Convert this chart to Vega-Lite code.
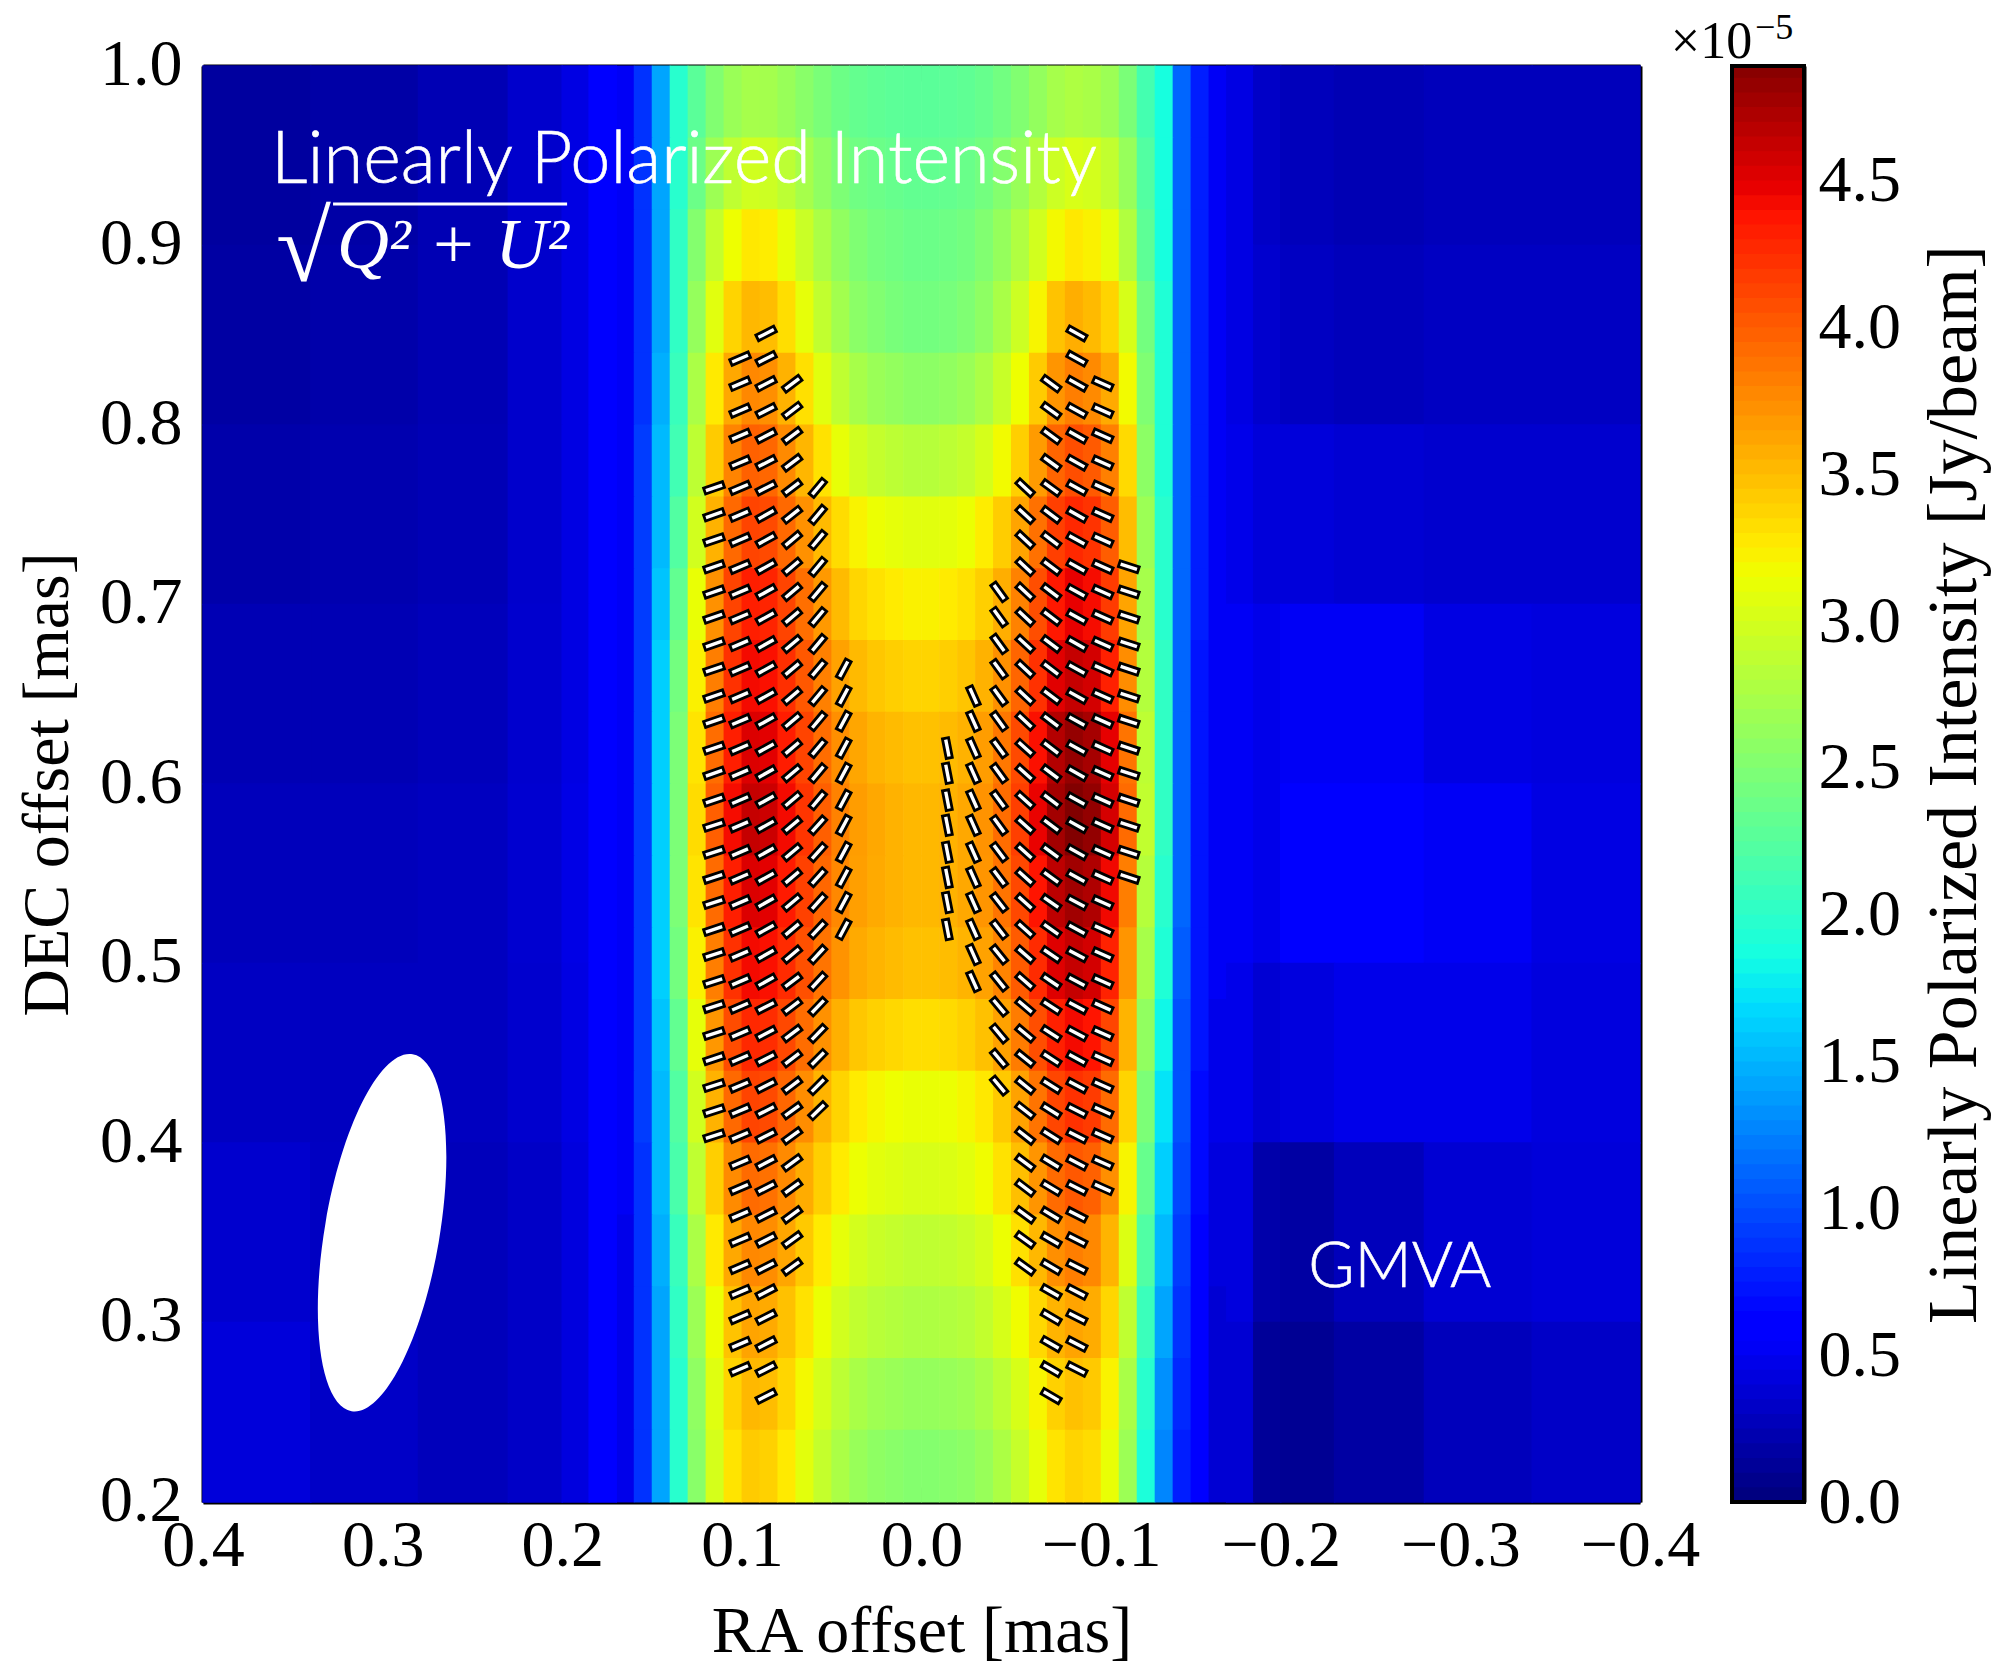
{"$schema":"https://vega.github.io/schema/vega-lite/v6.json","background":"white","padding":{"left":14,"top":9,"right":5,"bottom":5},"bounds":"flush","spacing":92,
"datasets":{
"inner":[
{"x":0.165,"y":0.98,"v":0.5},{"x":0.155,"y":0.98,"v":0.85},{"x":0.145,"y":0.98,"v":1.4},{"x":0.135,"y":0.98,"v":1.95},{"x":0.125,"y":0.98,"v":2.25},{"x":0.115,"y":0.98,"v":2.48},{"x":0.105,"y":0.98,"v":2.63},{"x":0.095,"y":0.98,"v":2.7},{"x":0.085,"y":0.98,"v":2.69},{"x":0.075,"y":0.98,"v":2.62},{"x":0.065,"y":0.98,"v":2.53},{"x":0.055,"y":0.98,"v":2.44},{"x":0.045,"y":0.98,"v":2.36},{"x":0.035,"y":0.98,"v":2.31},{"x":0.025,"y":0.98,"v":2.28},{"x":0.015,"y":0.98,"v":2.26},{"x":0.005,"y":0.98,"v":2.25},{"x":-0.005,"y":0.98,"v":2.25},{"x":-0.015,"y":0.98,"v":2.26},{"x":-0.025,"y":0.98,"v":2.28},{"x":-0.035,"y":0.98,"v":2.32},{"x":-0.045,"y":0.98,"v":2.39},{"x":-0.055,"y":0.98,"v":2.48},{"x":-0.065,"y":0.98,"v":2.59},{"x":-0.075,"y":0.98,"v":2.7},{"x":-0.085,"y":0.98,"v":2.75},{"x":-0.095,"y":0.98,"v":2.72},{"x":-0.105,"y":0.98,"v":2.64},{"x":-0.115,"y":0.98,"v":2.44},{"x":-0.125,"y":0.98,"v":2.12},{"x":-0.135,"y":0.98,"v":1.85},{"x":-0.145,"y":0.98,"v":1.1},{"x":-0.155,"y":0.98,"v":0.75},{"x":-0.165,"y":0.98,"v":0.5},
{"x":0.165,"y":0.94,"v":0.5},{"x":0.155,"y":0.94,"v":0.85},{"x":0.145,"y":0.94,"v":1.4},{"x":0.135,"y":0.94,"v":1.95},{"x":0.125,"y":0.94,"v":2.35},{"x":0.115,"y":0.94,"v":2.65},{"x":0.105,"y":0.94,"v":2.85},{"x":0.095,"y":0.94,"v":2.95},{"x":0.085,"y":0.94,"v":2.93},{"x":0.075,"y":0.94,"v":2.83},{"x":0.065,"y":0.94,"v":2.7},{"x":0.055,"y":0.94,"v":2.57},{"x":0.045,"y":0.94,"v":2.46},{"x":0.035,"y":0.94,"v":2.38},{"x":0.025,"y":0.94,"v":2.35},{"x":0.015,"y":0.94,"v":2.32},{"x":0.005,"y":0.94,"v":2.3},{"x":-0.005,"y":0.94,"v":2.3},{"x":-0.015,"y":0.94,"v":2.31},{"x":-0.025,"y":0.94,"v":2.34},{"x":-0.035,"y":0.94,"v":2.4},{"x":-0.045,"y":0.94,"v":2.5},{"x":-0.055,"y":0.94,"v":2.62},{"x":-0.065,"y":0.94,"v":2.78},{"x":-0.075,"y":0.94,"v":2.93},{"x":-0.085,"y":0.94,"v":3},{"x":-0.095,"y":0.94,"v":2.97},{"x":-0.105,"y":0.94,"v":2.86},{"x":-0.115,"y":0.94,"v":2.61},{"x":-0.125,"y":0.94,"v":2.2},{"x":-0.135,"y":0.94,"v":1.85},{"x":-0.145,"y":0.94,"v":1.1},{"x":-0.155,"y":0.94,"v":0.75},{"x":-0.165,"y":0.94,"v":0.5},
{"x":0.165,"y":0.9,"v":0.5},{"x":0.155,"y":0.9,"v":0.85},{"x":0.145,"y":0.9,"v":1.4},{"x":0.135,"y":0.9,"v":2},{"x":0.125,"y":0.9,"v":2.5},{"x":0.115,"y":0.9,"v":2.88},{"x":0.105,"y":0.9,"v":3.13},{"x":0.095,"y":0.9,"v":3.25},{"x":0.085,"y":0.9,"v":3.22},{"x":0.075,"y":0.9,"v":3.09},{"x":0.065,"y":0.9,"v":2.91},{"x":0.055,"y":0.9,"v":2.73},{"x":0.045,"y":0.9,"v":2.58},{"x":0.035,"y":0.9,"v":2.47},{"x":0.025,"y":0.9,"v":2.41},{"x":0.015,"y":0.9,"v":2.38},{"x":0.005,"y":0.9,"v":2.35},{"x":-0.005,"y":0.9,"v":2.35},{"x":-0.015,"y":0.9,"v":2.37},{"x":-0.025,"y":0.9,"v":2.4},{"x":-0.035,"y":0.9,"v":2.48},{"x":-0.045,"y":0.9,"v":2.6},{"x":-0.055,"y":0.9,"v":2.76},{"x":-0.065,"y":0.9,"v":2.96},{"x":-0.075,"y":0.9,"v":3.16},{"x":-0.085,"y":0.9,"v":3.25},{"x":-0.095,"y":0.9,"v":3.2},{"x":-0.105,"y":0.9,"v":3.08},{"x":-0.115,"y":0.9,"v":2.77},{"x":-0.125,"y":0.9,"v":2.27},{"x":-0.135,"y":0.9,"v":1.85},{"x":-0.145,"y":0.9,"v":1.1},{"x":-0.155,"y":0.9,"v":0.75},{"x":-0.165,"y":0.9,"v":0.5},
{"x":0.165,"y":0.86,"v":0.5},{"x":0.155,"y":0.86,"v":0.85},{"x":0.145,"y":0.86,"v":1.4},{"x":0.135,"y":0.86,"v":2},{"x":0.125,"y":0.86,"v":2.6},{"x":0.115,"y":0.86,"v":3.05},{"x":0.105,"y":0.86,"v":3.35},{"x":0.095,"y":0.86,"v":3.5},{"x":0.085,"y":0.86,"v":3.47},{"x":0.075,"y":0.86,"v":3.3},{"x":0.065,"y":0.86,"v":3.08},{"x":0.055,"y":0.86,"v":2.86},{"x":0.045,"y":0.86,"v":2.68},{"x":0.035,"y":0.86,"v":2.54},{"x":0.025,"y":0.86,"v":2.48},{"x":0.015,"y":0.86,"v":2.43},{"x":0.005,"y":0.86,"v":2.4},{"x":-0.005,"y":0.86,"v":2.4},{"x":-0.015,"y":0.86,"v":2.42},{"x":-0.025,"y":0.86,"v":2.47},{"x":-0.035,"y":0.86,"v":2.56},{"x":-0.045,"y":0.86,"v":2.72},{"x":-0.055,"y":0.86,"v":2.93},{"x":-0.065,"y":0.86,"v":3.18},{"x":-0.075,"y":0.86,"v":3.44},{"x":-0.085,"y":0.86,"v":3.55},{"x":-0.095,"y":0.86,"v":3.49},{"x":-0.105,"y":0.86,"v":3.35},{"x":-0.115,"y":0.86,"v":2.99},{"x":-0.125,"y":0.86,"v":2.4},{"x":-0.135,"y":0.86,"v":1.9},{"x":-0.145,"y":0.86,"v":1.1},{"x":-0.155,"y":0.86,"v":0.75},{"x":-0.165,"y":0.86,"v":0.5},
{"x":0.165,"y":0.82,"v":0.5},{"x":0.155,"y":0.82,"v":0.85},{"x":0.145,"y":0.82,"v":1.45},{"x":0.135,"y":0.82,"v":2.05},{"x":0.125,"y":0.82,"v":2.73},{"x":0.115,"y":0.82,"v":3.24},{"x":0.105,"y":0.82,"v":3.58},{"x":0.095,"y":0.82,"v":3.75},{"x":0.085,"y":0.82,"v":3.71},{"x":0.075,"y":0.82,"v":3.53},{"x":0.065,"y":0.82,"v":3.29},{"x":0.055,"y":0.82,"v":3.05},{"x":0.045,"y":0.82,"v":2.85},{"x":0.035,"y":0.82,"v":2.71},{"x":0.025,"y":0.82,"v":2.63},{"x":0.015,"y":0.82,"v":2.59},{"x":0.005,"y":0.82,"v":2.55},{"x":-0.005,"y":0.82,"v":2.55},{"x":-0.015,"y":0.82,"v":2.58},{"x":-0.025,"y":0.82,"v":2.63},{"x":-0.035,"y":0.82,"v":2.73},{"x":-0.045,"y":0.82,"v":2.9},{"x":-0.055,"y":0.82,"v":3.13},{"x":-0.065,"y":0.82,"v":3.4},{"x":-0.075,"y":0.82,"v":3.68},{"x":-0.085,"y":0.82,"v":3.8},{"x":-0.095,"y":0.82,"v":3.74},{"x":-0.105,"y":0.82,"v":3.57},{"x":-0.115,"y":0.82,"v":3.15},{"x":-0.125,"y":0.82,"v":2.47},{"x":-0.135,"y":0.82,"v":1.9},{"x":-0.145,"y":0.82,"v":1.1},{"x":-0.155,"y":0.82,"v":0.75},{"x":-0.165,"y":0.82,"v":0.5},
{"x":0.165,"y":0.78,"v":0.5},{"x":0.155,"y":0.78,"v":0.9},{"x":0.145,"y":0.78,"v":1.5},{"x":0.135,"y":0.78,"v":2.1},{"x":0.125,"y":0.78,"v":2.84},{"x":0.115,"y":0.78,"v":3.4},{"x":0.105,"y":0.78,"v":3.77},{"x":0.095,"y":0.78,"v":3.95},{"x":0.085,"y":0.78,"v":3.92},{"x":0.075,"y":0.78,"v":3.74},{"x":0.065,"y":0.78,"v":3.51},{"x":0.055,"y":0.78,"v":3.28},{"x":0.045,"y":0.78,"v":3.09},{"x":0.035,"y":0.78,"v":2.95},{"x":0.025,"y":0.78,"v":2.88},{"x":0.015,"y":0.78,"v":2.83},{"x":0.005,"y":0.78,"v":2.8},{"x":-0.005,"y":0.78,"v":2.8},{"x":-0.015,"y":0.78,"v":2.83},{"x":-0.025,"y":0.78,"v":2.88},{"x":-0.035,"y":0.78,"v":2.98},{"x":-0.045,"y":0.78,"v":3.15},{"x":-0.055,"y":0.78,"v":3.38},{"x":-0.065,"y":0.78,"v":3.65},{"x":-0.075,"y":0.78,"v":3.93},{"x":-0.085,"y":0.78,"v":4.05},{"x":-0.095,"y":0.78,"v":3.99},{"x":-0.105,"y":0.78,"v":3.79},{"x":-0.115,"y":0.78,"v":3.32},{"x":-0.125,"y":0.78,"v":2.55},{"x":-0.135,"y":0.78,"v":1.9},{"x":-0.145,"y":0.78,"v":1.1},{"x":-0.155,"y":0.78,"v":0.75},{"x":-0.165,"y":0.78,"v":0.5},
{"x":0.165,"y":0.74,"v":0.5},{"x":0.155,"y":0.74,"v":0.9},{"x":0.145,"y":0.74,"v":1.5},{"x":0.135,"y":0.74,"v":2.2},{"x":0.125,"y":0.74,"v":2.96},{"x":0.115,"y":0.74,"v":3.53},{"x":0.105,"y":0.74,"v":3.91},{"x":0.095,"y":0.74,"v":4.1},{"x":0.085,"y":0.74,"v":4.07},{"x":0.075,"y":0.74,"v":3.91},{"x":0.065,"y":0.74,"v":3.7},{"x":0.055,"y":0.74,"v":3.49},{"x":0.045,"y":0.74,"v":3.31},{"x":0.035,"y":0.74,"v":3.19},{"x":0.025,"y":0.74,"v":3.12},{"x":0.015,"y":0.74,"v":3.08},{"x":0.005,"y":0.74,"v":3.05},{"x":-0.005,"y":0.74,"v":3.05},{"x":-0.015,"y":0.74,"v":3.07},{"x":-0.025,"y":0.74,"v":3.12},{"x":-0.035,"y":0.74,"v":3.22},{"x":-0.045,"y":0.74,"v":3.39},{"x":-0.055,"y":0.74,"v":3.6},{"x":-0.065,"y":0.74,"v":3.87},{"x":-0.075,"y":0.74,"v":4.13},{"x":-0.085,"y":0.74,"v":4.25},{"x":-0.095,"y":0.74,"v":4.19},{"x":-0.105,"y":0.74,"v":3.97},{"x":-0.115,"y":0.74,"v":3.47},{"x":-0.125,"y":0.74,"v":2.64},{"x":-0.135,"y":0.74,"v":1.95},{"x":-0.145,"y":0.74,"v":1.1},{"x":-0.155,"y":0.74,"v":0.75},{"x":-0.165,"y":0.74,"v":0.5},
{"x":0.165,"y":0.7,"v":0.5},{"x":0.155,"y":0.7,"v":0.9},{"x":0.145,"y":0.7,"v":1.55},{"x":0.135,"y":0.7,"v":2.3},{"x":0.125,"y":0.7,"v":3.1},{"x":0.115,"y":0.7,"v":3.7},{"x":0.105,"y":0.7,"v":4.1},{"x":0.095,"y":0.7,"v":4.3},{"x":0.085,"y":0.7,"v":4.27},{"x":0.075,"y":0.7,"v":4.1},{"x":0.065,"y":0.7,"v":3.88},{"x":0.055,"y":0.7,"v":3.66},{"x":0.045,"y":0.7,"v":3.48},{"x":0.035,"y":0.7,"v":3.34},{"x":0.025,"y":0.7,"v":3.28},{"x":0.015,"y":0.7,"v":3.23},{"x":0.005,"y":0.7,"v":3.2},{"x":-0.005,"y":0.7,"v":3.2},{"x":-0.015,"y":0.7,"v":3.23},{"x":-0.025,"y":0.7,"v":3.28},{"x":-0.035,"y":0.7,"v":3.38},{"x":-0.045,"y":0.7,"v":3.55},{"x":-0.055,"y":0.7,"v":3.78},{"x":-0.065,"y":0.7,"v":4.05},{"x":-0.075,"y":0.7,"v":4.33},{"x":-0.085,"y":0.7,"v":4.45},{"x":-0.095,"y":0.7,"v":4.39},{"x":-0.105,"y":0.7,"v":4.15},{"x":-0.115,"y":0.7,"v":3.6},{"x":-0.125,"y":0.7,"v":2.7},{"x":-0.135,"y":0.7,"v":1.95},{"x":-0.145,"y":0.7,"v":1.1},{"x":-0.155,"y":0.7,"v":0.75},{"x":-0.165,"y":0.7,"v":0.5},
{"x":0.165,"y":0.66,"v":0.5},{"x":0.155,"y":0.66,"v":0.9},{"x":0.145,"y":0.66,"v":1.6},{"x":0.135,"y":0.66,"v":2.4},{"x":0.125,"y":0.66,"v":3.2},{"x":0.115,"y":0.66,"v":3.8},{"x":0.105,"y":0.66,"v":4.2},{"x":0.095,"y":0.66,"v":4.4},{"x":0.085,"y":0.66,"v":4.37},{"x":0.075,"y":0.66,"v":4.21},{"x":0.065,"y":0.66,"v":4},{"x":0.055,"y":0.66,"v":3.79},{"x":0.045,"y":0.66,"v":3.61},{"x":0.035,"y":0.66,"v":3.49},{"x":0.025,"y":0.66,"v":3.42},{"x":0.015,"y":0.66,"v":3.38},{"x":0.005,"y":0.66,"v":3.35},{"x":-0.005,"y":0.66,"v":3.35},{"x":-0.015,"y":0.66,"v":3.38},{"x":-0.025,"y":0.66,"v":3.43},{"x":-0.035,"y":0.66,"v":3.53},{"x":-0.045,"y":0.66,"v":3.7},{"x":-0.055,"y":0.66,"v":3.93},{"x":-0.065,"y":0.66,"v":4.2},{"x":-0.075,"y":0.66,"v":4.48},{"x":-0.085,"y":0.66,"v":4.6},{"x":-0.095,"y":0.66,"v":4.54},{"x":-0.105,"y":0.66,"v":4.29},{"x":-0.115,"y":0.66,"v":3.72},{"x":-0.125,"y":0.66,"v":2.78},{"x":-0.135,"y":0.66,"v":2},{"x":-0.145,"y":0.66,"v":1.1},{"x":-0.155,"y":0.66,"v":0.7},{"x":-0.165,"y":0.66,"v":0.5},
{"x":0.165,"y":0.62,"v":0.5},{"x":0.155,"y":0.62,"v":0.9},{"x":0.145,"y":0.62,"v":1.6},{"x":0.135,"y":0.62,"v":2.45},{"x":0.125,"y":0.62,"v":3.27},{"x":0.115,"y":0.62,"v":3.89},{"x":0.105,"y":0.62,"v":4.3},{"x":0.095,"y":0.62,"v":4.5},{"x":0.085,"y":0.62,"v":4.47},{"x":0.075,"y":0.62,"v":4.31},{"x":0.065,"y":0.62,"v":4.1},{"x":0.055,"y":0.62,"v":3.89},{"x":0.045,"y":0.62,"v":3.71},{"x":0.035,"y":0.62,"v":3.59},{"x":0.025,"y":0.62,"v":3.52},{"x":0.015,"y":0.62,"v":3.48},{"x":0.005,"y":0.62,"v":3.45},{"x":-0.005,"y":0.62,"v":3.45},{"x":-0.015,"y":0.62,"v":3.48},{"x":-0.025,"y":0.62,"v":3.53},{"x":-0.035,"y":0.62,"v":3.64},{"x":-0.045,"y":0.62,"v":3.83},{"x":-0.055,"y":0.62,"v":4.07},{"x":-0.065,"y":0.62,"v":4.37},{"x":-0.075,"y":0.62,"v":4.67},{"x":-0.085,"y":0.62,"v":4.8},{"x":-0.095,"y":0.62,"v":4.73},{"x":-0.105,"y":0.62,"v":4.46},{"x":-0.115,"y":0.62,"v":3.85},{"x":-0.125,"y":0.62,"v":2.84},{"x":-0.135,"y":0.62,"v":2},{"x":-0.145,"y":0.62,"v":1.1},{"x":-0.155,"y":0.62,"v":0.7},{"x":-0.165,"y":0.62,"v":0.5},
{"x":0.165,"y":0.58,"v":0.5},{"x":0.155,"y":0.58,"v":0.9},{"x":0.145,"y":0.58,"v":1.6},{"x":0.135,"y":0.58,"v":2.45},{"x":0.125,"y":0.58,"v":3.31},{"x":0.115,"y":0.58,"v":3.96},{"x":0.105,"y":0.58,"v":4.39},{"x":0.095,"y":0.58,"v":4.6},{"x":0.085,"y":0.58,"v":4.57},{"x":0.075,"y":0.58,"v":4.4},{"x":0.065,"y":0.58,"v":4.18},{"x":0.055,"y":0.58,"v":3.96},{"x":0.045,"y":0.58,"v":3.78},{"x":0.035,"y":0.58,"v":3.64},{"x":0.025,"y":0.58,"v":3.58},{"x":0.015,"y":0.58,"v":3.53},{"x":0.005,"y":0.58,"v":3.5},{"x":-0.005,"y":0.58,"v":3.5},{"x":-0.015,"y":0.58,"v":3.53},{"x":-0.025,"y":0.58,"v":3.58},{"x":-0.035,"y":0.58,"v":3.69},{"x":-0.045,"y":0.58,"v":3.89},{"x":-0.055,"y":0.58,"v":4.13},{"x":-0.065,"y":0.58,"v":4.44},{"x":-0.075,"y":0.58,"v":4.74},{"x":-0.085,"y":0.58,"v":4.88},{"x":-0.095,"y":0.58,"v":4.81},{"x":-0.105,"y":0.58,"v":4.53},{"x":-0.115,"y":0.58,"v":3.9},{"x":-0.125,"y":0.58,"v":2.86},{"x":-0.135,"y":0.58,"v":2},{"x":-0.145,"y":0.58,"v":1.1},{"x":-0.155,"y":0.58,"v":0.7},{"x":-0.165,"y":0.58,"v":0.5},
{"x":0.165,"y":0.54,"v":0.5},{"x":0.155,"y":0.54,"v":0.9},{"x":0.145,"y":0.54,"v":1.6},{"x":0.135,"y":0.54,"v":2.45},{"x":0.125,"y":0.54,"v":3.27},{"x":0.115,"y":0.54,"v":3.9},{"x":0.105,"y":0.54,"v":4.3},{"x":0.095,"y":0.54,"v":4.5},{"x":0.085,"y":0.54,"v":4.47},{"x":0.075,"y":0.54,"v":4.32},{"x":0.065,"y":0.54,"v":4.12},{"x":0.055,"y":0.54,"v":3.92},{"x":0.045,"y":0.54,"v":3.75},{"x":0.035,"y":0.54,"v":3.63},{"x":0.025,"y":0.54,"v":3.57},{"x":0.015,"y":0.54,"v":3.53},{"x":0.005,"y":0.54,"v":3.5},{"x":-0.005,"y":0.54,"v":3.5},{"x":-0.015,"y":0.54,"v":3.53},{"x":-0.025,"y":0.54,"v":3.58},{"x":-0.035,"y":0.54,"v":3.68},{"x":-0.045,"y":0.54,"v":3.85},{"x":-0.055,"y":0.54,"v":4.08},{"x":-0.065,"y":0.54,"v":4.35},{"x":-0.075,"y":0.54,"v":4.63},{"x":-0.085,"y":0.54,"v":4.75},{"x":-0.095,"y":0.54,"v":4.69},{"x":-0.105,"y":0.54,"v":4.41},{"x":-0.115,"y":0.54,"v":3.8},{"x":-0.125,"y":0.54,"v":2.79},{"x":-0.135,"y":0.54,"v":1.95},{"x":-0.145,"y":0.54,"v":1.1},{"x":-0.155,"y":0.54,"v":0.7},{"x":-0.165,"y":0.54,"v":0.5},
{"x":0.165,"y":0.5,"v":0.5},{"x":0.155,"y":0.5,"v":0.9},{"x":0.145,"y":0.5,"v":1.6},{"x":0.135,"y":0.5,"v":2.4},{"x":0.125,"y":0.5,"v":3.2},{"x":0.115,"y":0.5,"v":3.8},{"x":0.105,"y":0.5,"v":4.2},{"x":0.095,"y":0.5,"v":4.4},{"x":0.085,"y":0.5,"v":4.37},{"x":0.075,"y":0.5,"v":4.23},{"x":0.065,"y":0.5,"v":4.04},{"x":0.055,"y":0.5,"v":3.85},{"x":0.045,"y":0.5,"v":3.69},{"x":0.035,"y":0.5,"v":3.57},{"x":0.025,"y":0.5,"v":3.52},{"x":0.015,"y":0.5,"v":3.48},{"x":0.005,"y":0.5,"v":3.45},{"x":-0.005,"y":0.5,"v":3.45},{"x":-0.015,"y":0.5,"v":3.47},{"x":-0.025,"y":0.5,"v":3.52},{"x":-0.035,"y":0.5,"v":3.61},{"x":-0.045,"y":0.5,"v":3.77},{"x":-0.055,"y":0.5,"v":3.98},{"x":-0.065,"y":0.5,"v":4.23},{"x":-0.075,"y":0.5,"v":4.49},{"x":-0.085,"y":0.5,"v":4.6},{"x":-0.095,"y":0.5,"v":4.54},{"x":-0.105,"y":0.5,"v":4.28},{"x":-0.115,"y":0.5,"v":3.68},{"x":-0.125,"y":0.5,"v":2.71},{"x":-0.135,"y":0.5,"v":1.9},{"x":-0.145,"y":0.5,"v":1.05},{"x":-0.155,"y":0.5,"v":0.7},{"x":-0.165,"y":0.5,"v":0.5},
{"x":0.165,"y":0.46,"v":0.5},{"x":0.155,"y":0.46,"v":0.9},{"x":0.145,"y":0.46,"v":1.55},{"x":0.135,"y":0.46,"v":2.3},{"x":0.125,"y":0.46,"v":3.08},{"x":0.115,"y":0.46,"v":3.67},{"x":0.105,"y":0.46,"v":4.06},{"x":0.095,"y":0.46,"v":4.25},{"x":0.085,"y":0.46,"v":4.22},{"x":0.075,"y":0.46,"v":4.08},{"x":0.065,"y":0.46,"v":3.89},{"x":0.055,"y":0.46,"v":3.7},{"x":0.045,"y":0.46,"v":3.54},{"x":0.035,"y":0.46,"v":3.42},{"x":0.025,"y":0.46,"v":3.37},{"x":0.015,"y":0.46,"v":3.33},{"x":0.005,"y":0.46,"v":3.3},{"x":-0.005,"y":0.46,"v":3.3},{"x":-0.015,"y":0.46,"v":3.32},{"x":-0.025,"y":0.46,"v":3.37},{"x":-0.035,"y":0.46,"v":3.45},{"x":-0.045,"y":0.46,"v":3.61},{"x":-0.055,"y":0.46,"v":3.81},{"x":-0.065,"y":0.46,"v":4.05},{"x":-0.075,"y":0.46,"v":4.29},{"x":-0.085,"y":0.46,"v":4.4},{"x":-0.095,"y":0.46,"v":4.35},{"x":-0.105,"y":0.46,"v":4.09},{"x":-0.115,"y":0.46,"v":3.52},{"x":-0.125,"y":0.46,"v":2.58},{"x":-0.135,"y":0.46,"v":1.8},{"x":-0.145,"y":0.46,"v":1},{"x":-0.155,"y":0.46,"v":0.7},{"x":-0.165,"y":0.46,"v":0.45},
{"x":0.165,"y":0.42,"v":0.5},{"x":0.155,"y":0.42,"v":0.9},{"x":0.145,"y":0.42,"v":1.5},{"x":0.135,"y":0.42,"v":2.2},{"x":0.125,"y":0.42,"v":2.96},{"x":0.115,"y":0.42,"v":3.53},{"x":0.105,"y":0.42,"v":3.91},{"x":0.095,"y":0.42,"v":4.1},{"x":0.085,"y":0.42,"v":4.07},{"x":0.075,"y":0.42,"v":3.92},{"x":0.065,"y":0.42,"v":3.72},{"x":0.055,"y":0.42,"v":3.52},{"x":0.045,"y":0.42,"v":3.35},{"x":0.035,"y":0.42,"v":3.23},{"x":0.025,"y":0.42,"v":3.17},{"x":0.015,"y":0.42,"v":3.13},{"x":0.005,"y":0.42,"v":3.1},{"x":-0.005,"y":0.42,"v":3.1},{"x":-0.015,"y":0.42,"v":3.12},{"x":-0.025,"y":0.42,"v":3.17},{"x":-0.035,"y":0.42,"v":3.25},{"x":-0.045,"y":0.42,"v":3.41},{"x":-0.055,"y":0.42,"v":3.61},{"x":-0.065,"y":0.42,"v":3.85},{"x":-0.075,"y":0.42,"v":4.09},{"x":-0.085,"y":0.42,"v":4.2},{"x":-0.095,"y":0.42,"v":4.15},{"x":-0.105,"y":0.42,"v":3.9},{"x":-0.115,"y":0.42,"v":3.35},{"x":-0.125,"y":0.42,"v":2.45},{"x":-0.135,"y":0.42,"v":1.7},{"x":-0.145,"y":0.42,"v":1},{"x":-0.155,"y":0.42,"v":0.65},{"x":-0.165,"y":0.42,"v":0.45},
{"x":0.165,"y":0.38,"v":0.5},{"x":0.155,"y":0.38,"v":0.85},{"x":0.145,"y":0.38,"v":1.5},{"x":0.135,"y":0.38,"v":2.15},{"x":0.125,"y":0.38,"v":2.85},{"x":0.115,"y":0.38,"v":3.38},{"x":0.105,"y":0.38,"v":3.73},{"x":0.095,"y":0.38,"v":3.9},{"x":0.085,"y":0.38,"v":3.87},{"x":0.075,"y":0.38,"v":3.74},{"x":0.065,"y":0.38,"v":3.56},{"x":0.055,"y":0.38,"v":3.38},{"x":0.045,"y":0.38,"v":3.23},{"x":0.035,"y":0.38,"v":3.12},{"x":0.025,"y":0.38,"v":3.06},{"x":0.015,"y":0.38,"v":3.03},{"x":0.005,"y":0.38,"v":3},{"x":-0.005,"y":0.38,"v":3},{"x":-0.015,"y":0.38,"v":3.02},{"x":-0.025,"y":0.38,"v":3.06},{"x":-0.035,"y":0.38,"v":3.14},{"x":-0.045,"y":0.38,"v":3.28},{"x":-0.055,"y":0.38,"v":3.46},{"x":-0.065,"y":0.38,"v":3.68},{"x":-0.075,"y":0.38,"v":3.9},{"x":-0.085,"y":0.38,"v":4},{"x":-0.095,"y":0.38,"v":3.95},{"x":-0.105,"y":0.38,"v":3.71},{"x":-0.115,"y":0.38,"v":3.18},{"x":-0.125,"y":0.38,"v":2.32},{"x":-0.135,"y":0.38,"v":1.6},{"x":-0.145,"y":0.38,"v":0.95},{"x":-0.155,"y":0.38,"v":0.65},{"x":-0.165,"y":0.38,"v":0.4},
{"x":0.165,"y":0.34,"v":0.45},{"x":0.155,"y":0.34,"v":0.85},{"x":0.145,"y":0.34,"v":1.45},{"x":0.135,"y":0.34,"v":2.05},{"x":0.125,"y":0.34,"v":2.73},{"x":0.115,"y":0.34,"v":3.24},{"x":0.105,"y":0.34,"v":3.58},{"x":0.095,"y":0.34,"v":3.75},{"x":0.085,"y":0.34,"v":3.72},{"x":0.075,"y":0.34,"v":3.59},{"x":0.065,"y":0.34,"v":3.41},{"x":0.055,"y":0.34,"v":3.23},{"x":0.045,"y":0.34,"v":3.08},{"x":0.035,"y":0.34,"v":2.97},{"x":0.025,"y":0.34,"v":2.91},{"x":0.015,"y":0.34,"v":2.88},{"x":0.005,"y":0.34,"v":2.85},{"x":-0.005,"y":0.34,"v":2.85},{"x":-0.015,"y":0.34,"v":2.87},{"x":-0.025,"y":0.34,"v":2.91},{"x":-0.035,"y":0.34,"v":2.98},{"x":-0.045,"y":0.34,"v":3.12},{"x":-0.055,"y":0.34,"v":3.29},{"x":-0.065,"y":0.34,"v":3.5},{"x":-0.075,"y":0.34,"v":3.71},{"x":-0.085,"y":0.34,"v":3.8},{"x":-0.095,"y":0.34,"v":3.75},{"x":-0.105,"y":0.34,"v":3.52},{"x":-0.115,"y":0.34,"v":3.02},{"x":-0.125,"y":0.34,"v":2.19},{"x":-0.135,"y":0.34,"v":1.5},{"x":-0.145,"y":0.34,"v":0.9},{"x":-0.155,"y":0.34,"v":0.6},{"x":-0.165,"y":0.34,"v":0.4},
{"x":0.165,"y":0.3,"v":0.45},{"x":0.155,"y":0.3,"v":0.85},{"x":0.145,"y":0.3,"v":1.4},{"x":0.135,"y":0.3,"v":2},{"x":0.125,"y":0.3,"v":2.64},{"x":0.115,"y":0.3,"v":3.12},{"x":0.105,"y":0.3,"v":3.44},{"x":0.095,"y":0.3,"v":3.6},{"x":0.085,"y":0.3,"v":3.57},{"x":0.075,"y":0.3,"v":3.45},{"x":0.065,"y":0.3,"v":3.28},{"x":0.055,"y":0.3,"v":3.11},{"x":0.045,"y":0.3,"v":2.96},{"x":0.035,"y":0.3,"v":2.86},{"x":0.025,"y":0.3,"v":2.81},{"x":0.015,"y":0.3,"v":2.78},{"x":0.005,"y":0.3,"v":2.75},{"x":-0.005,"y":0.3,"v":2.75},{"x":-0.015,"y":0.3,"v":2.77},{"x":-0.025,"y":0.3,"v":2.8},{"x":-0.035,"y":0.3,"v":2.87},{"x":-0.045,"y":0.3,"v":2.99},{"x":-0.055,"y":0.3,"v":3.14},{"x":-0.065,"y":0.3,"v":3.33},{"x":-0.075,"y":0.3,"v":3.52},{"x":-0.085,"y":0.3,"v":3.6},{"x":-0.095,"y":0.3,"v":3.56},{"x":-0.105,"y":0.3,"v":3.34},{"x":-0.115,"y":0.3,"v":2.85},{"x":-0.125,"y":0.3,"v":2.06},{"x":-0.135,"y":0.3,"v":1.4},{"x":-0.145,"y":0.3,"v":0.85},{"x":-0.155,"y":0.3,"v":0.6},{"x":-0.165,"y":0.3,"v":0.35},
{"x":0.165,"y":0.26,"v":0.45},{"x":0.155,"y":0.26,"v":0.85},{"x":0.145,"y":0.26,"v":1.4},{"x":0.135,"y":0.26,"v":1.95},{"x":0.125,"y":0.26,"v":2.57},{"x":0.115,"y":0.26,"v":3.04},{"x":0.105,"y":0.26,"v":3.35},{"x":0.095,"y":0.26,"v":3.5},{"x":0.085,"y":0.26,"v":3.47},{"x":0.075,"y":0.26,"v":3.34},{"x":0.065,"y":0.26,"v":3.16},{"x":0.055,"y":0.26,"v":2.98},{"x":0.045,"y":0.26,"v":2.83},{"x":0.035,"y":0.26,"v":2.72},{"x":0.025,"y":0.26,"v":2.66},{"x":0.015,"y":0.26,"v":2.63},{"x":0.005,"y":0.26,"v":2.6},{"x":-0.005,"y":0.26,"v":2.6},{"x":-0.015,"y":0.26,"v":2.62},{"x":-0.025,"y":0.26,"v":2.65},{"x":-0.035,"y":0.26,"v":2.72},{"x":-0.045,"y":0.26,"v":2.84},{"x":-0.055,"y":0.26,"v":2.99},{"x":-0.065,"y":0.26,"v":3.18},{"x":-0.075,"y":0.26,"v":3.37},{"x":-0.085,"y":0.26,"v":3.45},{"x":-0.095,"y":0.26,"v":3.41},{"x":-0.105,"y":0.26,"v":3.19},{"x":-0.115,"y":0.26,"v":2.72},{"x":-0.125,"y":0.26,"v":1.95},{"x":-0.135,"y":0.26,"v":1.3},{"x":-0.145,"y":0.26,"v":0.8},{"x":-0.155,"y":0.26,"v":0.55},{"x":-0.165,"y":0.26,"v":0.35},
{"x":0.165,"y":0.22,"v":0.45},{"x":0.155,"y":0.22,"v":0.85},{"x":0.145,"y":0.22,"v":1.4},{"x":0.135,"y":0.22,"v":1.95},{"x":0.125,"y":0.22,"v":2.53},{"x":0.115,"y":0.22,"v":2.98},{"x":0.105,"y":0.22,"v":3.27},{"x":0.095,"y":0.22,"v":3.4},{"x":0.085,"y":0.22,"v":3.37},{"x":0.075,"y":0.22,"v":3.24},{"x":0.065,"y":0.22,"v":3.06},{"x":0.055,"y":0.22,"v":2.88},{"x":0.045,"y":0.22,"v":2.73},{"x":0.035,"y":0.22,"v":2.62},{"x":0.025,"y":0.22,"v":2.56},{"x":0.015,"y":0.22,"v":2.53},{"x":0.005,"y":0.22,"v":2.5},{"x":-0.005,"y":0.22,"v":2.5},{"x":-0.015,"y":0.22,"v":2.52},{"x":-0.025,"y":0.22,"v":2.55},{"x":-0.035,"y":0.22,"v":2.62},{"x":-0.045,"y":0.22,"v":2.74},{"x":-0.055,"y":0.22,"v":2.89},{"x":-0.065,"y":0.22,"v":3.08},{"x":-0.075,"y":0.22,"v":3.27},{"x":-0.085,"y":0.22,"v":3.35},{"x":-0.095,"y":0.22,"v":3.31},{"x":-0.105,"y":0.22,"v":3.1},{"x":-0.115,"y":0.22,"v":2.64},{"x":-0.125,"y":0.22,"v":1.88},{"x":-0.135,"y":0.22,"v":1.25},{"x":-0.145,"y":0.22,"v":0.75},{"x":-0.155,"y":0.22,"v":0.55},{"x":-0.165,"y":0.22,"v":0.35}
],
"outer":[
{"x":0.4,"u":0.34,"y":0.9,"t":1,"v":0.13},{"x":0.34,"u":0.28,"y":0.9,"t":1,"v":0.16},{"x":0.28,"u":0.23,"y":0.9,"t":1,"v":0.22},{"x":0.23,"u":0.2,"y":0.9,"t":1,"v":0.32},{"x":0.2,"u":0.185,"y":0.9,"t":1,"v":0.42},{"x":0.185,"u":0.17,"y":0.9,"t":1,"v":0.55},
{"x":0.4,"u":0.34,"y":0.8,"t":0.9,"v":0.15},{"x":0.34,"u":0.28,"y":0.8,"t":0.9,"v":0.18},{"x":0.28,"u":0.23,"y":0.8,"t":0.9,"v":0.22},{"x":0.23,"u":0.2,"y":0.8,"t":0.9,"v":0.32},{"x":0.2,"u":0.185,"y":0.8,"t":0.9,"v":0.42},{"x":0.185,"u":0.17,"y":0.8,"t":0.9,"v":0.55},
{"x":0.4,"u":0.34,"y":0.7,"t":0.8,"v":0.18},{"x":0.34,"u":0.28,"y":0.7,"t":0.8,"v":0.2},{"x":0.28,"u":0.23,"y":0.7,"t":0.8,"v":0.23},{"x":0.23,"u":0.2,"y":0.7,"t":0.8,"v":0.32},{"x":0.2,"u":0.185,"y":0.7,"t":0.8,"v":0.42},{"x":0.185,"u":0.17,"y":0.7,"t":0.8,"v":0.55},
{"x":0.4,"u":0.34,"y":0.6,"t":0.7,"v":0.22},{"x":0.34,"u":0.28,"y":0.6,"t":0.7,"v":0.22},{"x":0.28,"u":0.23,"y":0.6,"t":0.7,"v":0.25},{"x":0.23,"u":0.2,"y":0.6,"t":0.7,"v":0.33},{"x":0.2,"u":0.185,"y":0.6,"t":0.7,"v":0.42},{"x":0.185,"u":0.17,"y":0.6,"t":0.7,"v":0.55},
{"x":0.4,"u":0.34,"y":0.5,"t":0.6,"v":0.25},{"x":0.34,"u":0.28,"y":0.5,"t":0.6,"v":0.25},{"x":0.28,"u":0.23,"y":0.5,"t":0.6,"v":0.27},{"x":0.23,"u":0.2,"y":0.5,"t":0.6,"v":0.34},{"x":0.2,"u":0.185,"y":0.5,"t":0.6,"v":0.43},{"x":0.185,"u":0.17,"y":0.5,"t":0.6,"v":0.55},
{"x":0.4,"u":0.34,"y":0.4,"t":0.5,"v":0.28},{"x":0.34,"u":0.28,"y":0.4,"t":0.5,"v":0.27},{"x":0.28,"u":0.23,"y":0.4,"t":0.5,"v":0.27},{"x":0.23,"u":0.2,"y":0.4,"t":0.5,"v":0.33},{"x":0.2,"u":0.185,"y":0.4,"t":0.5,"v":0.42},{"x":0.185,"u":0.17,"y":0.4,"t":0.5,"v":0.55},
{"x":0.4,"u":0.34,"y":0.3,"t":0.4,"v":0.33},{"x":0.34,"u":0.28,"y":0.3,"t":0.4,"v":0.28},{"x":0.28,"u":0.23,"y":0.3,"t":0.4,"v":0.25},{"x":0.23,"u":0.2,"y":0.3,"t":0.4,"v":0.3},{"x":0.2,"u":0.185,"y":0.3,"t":0.4,"v":0.4},{"x":0.185,"u":0.17,"y":0.3,"t":0.4,"v":0.55},
{"x":0.4,"u":0.34,"y":0.2,"t":0.3,"v":0.38},{"x":0.34,"u":0.28,"y":0.2,"t":0.3,"v":0.3},{"x":0.28,"u":0.23,"y":0.2,"t":0.3,"v":0.25},{"x":0.23,"u":0.2,"y":0.2,"t":0.3,"v":0.3},{"x":0.2,"u":0.185,"y":0.2,"t":0.3,"v":0.4},{"x":0.185,"u":0.17,"y":0.2,"t":0.3,"v":0.55},
{"x":-0.17,"u":-0.185,"y":0.9,"t":1,"v":0.42},{"x":-0.185,"u":-0.2,"y":0.9,"t":1,"v":0.3},{"x":-0.2,"u":-0.23,"y":0.9,"t":1,"v":0.25},{"x":-0.23,"u":-0.28,"y":0.9,"t":1,"v":0.22},{"x":-0.28,"u":-0.34,"y":0.9,"t":1,"v":0.25},{"x":-0.34,"u":-0.4,"y":0.9,"t":1,"v":0.25},
{"x":-0.17,"u":-0.185,"y":0.8,"t":0.9,"v":0.42},{"x":-0.185,"u":-0.2,"y":0.8,"t":0.9,"v":0.33},{"x":-0.2,"u":-0.23,"y":0.8,"t":0.9,"v":0.28},{"x":-0.23,"u":-0.28,"y":0.8,"t":0.9,"v":0.25},{"x":-0.28,"u":-0.34,"y":0.8,"t":0.9,"v":0.28},{"x":-0.34,"u":-0.4,"y":0.8,"t":0.9,"v":0.28},
{"x":-0.17,"u":-0.185,"y":0.7,"t":0.8,"v":0.45},{"x":-0.185,"u":-0.2,"y":0.7,"t":0.8,"v":0.38},{"x":-0.2,"u":-0.23,"y":0.7,"t":0.8,"v":0.38},{"x":-0.23,"u":-0.28,"y":0.7,"t":0.8,"v":0.35},{"x":-0.28,"u":-0.34,"y":0.7,"t":0.8,"v":0.33},{"x":-0.34,"u":-0.4,"y":0.7,"t":0.8,"v":0.33},
{"x":-0.17,"u":-0.185,"y":0.6,"t":0.7,"v":0.5},{"x":-0.185,"u":-0.2,"y":0.6,"t":0.7,"v":0.45},{"x":-0.2,"u":-0.23,"y":0.6,"t":0.7,"v":0.5},{"x":-0.23,"u":-0.28,"y":0.6,"t":0.7,"v":0.5},{"x":-0.28,"u":-0.34,"y":0.6,"t":0.7,"v":0.42},{"x":-0.34,"u":-0.4,"y":0.6,"t":0.7,"v":0.4},
{"x":-0.17,"u":-0.185,"y":0.5,"t":0.6,"v":0.5},{"x":-0.185,"u":-0.2,"y":0.5,"t":0.6,"v":0.45},{"x":-0.2,"u":-0.23,"y":0.5,"t":0.6,"v":0.55},{"x":-0.23,"u":-0.28,"y":0.5,"t":0.6,"v":0.58},{"x":-0.28,"u":-0.34,"y":0.5,"t":0.6,"v":0.5},{"x":-0.34,"u":-0.4,"y":0.5,"t":0.6,"v":0.42},
{"x":-0.17,"u":-0.185,"y":0.4,"t":0.5,"v":0.45},{"x":-0.185,"u":-0.2,"y":0.4,"t":0.5,"v":0.35},{"x":-0.2,"u":-0.23,"y":0.4,"t":0.5,"v":0.4},{"x":-0.23,"u":-0.28,"y":0.4,"t":0.5,"v":0.45},{"x":-0.28,"u":-0.34,"y":0.4,"t":0.5,"v":0.45},{"x":-0.34,"u":-0.4,"y":0.4,"t":0.5,"v":0.4},
{"x":-0.17,"u":-0.185,"y":0.3,"t":0.4,"v":0.4},{"x":-0.185,"u":-0.2,"y":0.3,"t":0.4,"v":0.18},{"x":-0.2,"u":-0.23,"y":0.3,"t":0.4,"v":0.15},{"x":-0.23,"u":-0.28,"y":0.3,"t":0.4,"v":0.25},{"x":-0.28,"u":-0.34,"y":0.3,"t":0.4,"v":0.35},{"x":-0.34,"u":-0.4,"y":0.3,"t":0.4,"v":0.38},
{"x":-0.17,"u":-0.185,"y":0.2,"t":0.3,"v":0.35},{"x":-0.185,"u":-0.2,"y":0.2,"t":0.3,"v":0.1},{"x":-0.2,"u":-0.23,"y":0.2,"t":0.3,"v":0.08},{"x":-0.23,"u":-0.28,"y":0.2,"t":0.3,"v":0.15},{"x":-0.28,"u":-0.34,"y":0.2,"t":0.3,"v":0.25},{"x":-0.34,"u":-0.4,"y":0.2,"t":0.3,"v":0.3}
],
"evpa":[
{"x":0.1155,"y":0.765,"a":-19},{"x":0.1155,"y":0.75,"a":-19},{"x":0.1155,"y":0.736,"a":-19},{"x":0.1155,"y":0.721,"a":-19},{"x":0.1155,"y":0.707,"a":-19},{"x":0.1155,"y":0.693,"a":-19},{"x":0.1155,"y":0.678,"a":-19},{"x":0.1155,"y":0.664,"a":-19},{"x":0.1155,"y":0.649,"a":-19},{"x":0.1155,"y":0.635,"a":-19},{"x":0.1155,"y":0.62,"a":-19},{"x":0.1155,"y":0.606,"a":-19},{"x":0.1155,"y":0.591,"a":-19},{"x":0.1155,"y":0.577,"a":-18},{"x":0.1155,"y":0.562,"a":-18},{"x":0.1155,"y":0.548,"a":-18},{"x":0.1155,"y":0.534,"a":-18},{"x":0.1155,"y":0.519,"a":-18},{"x":0.1155,"y":0.505,"a":-18},{"x":0.1155,"y":0.49,"a":-18},{"x":0.1155,"y":0.476,"a":-18},{"x":0.1155,"y":0.461,"a":-18},{"x":0.1155,"y":0.447,"a":-18},{"x":0.1155,"y":0.432,"a":-18},{"x":0.1155,"y":0.418,"a":-18},{"x":0.1155,"y":0.404,"a":-18},
{"x":0.101,"y":0.837,"a":-23},{"x":0.101,"y":0.823,"a":-23},{"x":0.101,"y":0.808,"a":-23},{"x":0.101,"y":0.794,"a":-23},{"x":0.101,"y":0.779,"a":-23},{"x":0.101,"y":0.765,"a":-23},{"x":0.101,"y":0.75,"a":-23},{"x":0.101,"y":0.736,"a":-23},{"x":0.101,"y":0.721,"a":-23},{"x":0.101,"y":0.707,"a":-23},{"x":0.101,"y":0.693,"a":-23},{"x":0.101,"y":0.678,"a":-23},{"x":0.101,"y":0.664,"a":-23},{"x":0.101,"y":0.649,"a":-23},{"x":0.101,"y":0.635,"a":-23},{"x":0.101,"y":0.62,"a":-23},{"x":0.101,"y":0.606,"a":-23},{"x":0.101,"y":0.591,"a":-23},{"x":0.101,"y":0.577,"a":-23},{"x":0.101,"y":0.562,"a":-23},{"x":0.101,"y":0.548,"a":-23},{"x":0.101,"y":0.534,"a":-23},{"x":0.101,"y":0.519,"a":-23},{"x":0.101,"y":0.505,"a":-23},{"x":0.101,"y":0.49,"a":-23},{"x":0.101,"y":0.476,"a":-23},{"x":0.101,"y":0.461,"a":-23},{"x":0.101,"y":0.447,"a":-23},{"x":0.101,"y":0.432,"a":-23},{"x":0.101,"y":0.418,"a":-23},{"x":0.101,"y":0.404,"a":-23},{"x":0.101,"y":0.389,"a":-23},{"x":0.101,"y":0.375,"a":-23},{"x":0.101,"y":0.36,"a":-23},{"x":0.101,"y":0.346,"a":-23},{"x":0.101,"y":0.331,"a":-23},{"x":0.101,"y":0.317,"a":-23},{"x":0.101,"y":0.303,"a":-23},{"x":0.101,"y":0.288,"a":-23},{"x":0.101,"y":0.274,"a":-23},
{"x":0.0865,"y":0.851,"a":-27},{"x":0.0865,"y":0.837,"a":-27},{"x":0.0865,"y":0.823,"a":-27},{"x":0.0865,"y":0.808,"a":-27},{"x":0.0865,"y":0.794,"a":-27},{"x":0.0865,"y":0.779,"a":-27},{"x":0.0865,"y":0.765,"a":-27},{"x":0.0865,"y":0.75,"a":-29},{"x":0.0865,"y":0.736,"a":-29},{"x":0.0865,"y":0.721,"a":-29},{"x":0.0865,"y":0.707,"a":-29},{"x":0.0865,"y":0.693,"a":-29},{"x":0.0865,"y":0.678,"a":-29},{"x":0.0865,"y":0.664,"a":-29},{"x":0.0865,"y":0.649,"a":-29},{"x":0.0865,"y":0.635,"a":-29},{"x":0.0865,"y":0.62,"a":-29},{"x":0.0865,"y":0.606,"a":-29},{"x":0.0865,"y":0.591,"a":-29},{"x":0.0865,"y":0.577,"a":-29},{"x":0.0865,"y":0.562,"a":-29},{"x":0.0865,"y":0.548,"a":-29},{"x":0.0865,"y":0.534,"a":-29},{"x":0.0865,"y":0.519,"a":-29},{"x":0.0865,"y":0.505,"a":-29},{"x":0.0865,"y":0.49,"a":-29},{"x":0.0865,"y":0.476,"a":-27},{"x":0.0865,"y":0.461,"a":-27},{"x":0.0865,"y":0.447,"a":-27},{"x":0.0865,"y":0.432,"a":-27},{"x":0.0865,"y":0.418,"a":-27},{"x":0.0865,"y":0.404,"a":-27},{"x":0.0865,"y":0.389,"a":-27},{"x":0.0865,"y":0.375,"a":-27},{"x":0.0865,"y":0.36,"a":-27},{"x":0.0865,"y":0.346,"a":-27},{"x":0.0865,"y":0.331,"a":-27},{"x":0.0865,"y":0.317,"a":-27},{"x":0.0865,"y":0.303,"a":-27},{"x":0.0865,"y":0.288,"a":-27},{"x":0.0865,"y":0.274,"a":-27},{"x":0.0865,"y":0.259,"a":-27},
{"x":0.072,"y":0.823,"a":-37},{"x":0.072,"y":0.808,"a":-37},{"x":0.072,"y":0.794,"a":-37},{"x":0.072,"y":0.779,"a":-37},{"x":0.072,"y":0.765,"a":-37},{"x":0.072,"y":0.75,"a":-38},{"x":0.072,"y":0.736,"a":-40},{"x":0.072,"y":0.721,"a":-40},{"x":0.072,"y":0.707,"a":-40},{"x":0.072,"y":0.693,"a":-40},{"x":0.072,"y":0.678,"a":-40},{"x":0.072,"y":0.664,"a":-40},{"x":0.072,"y":0.649,"a":-40},{"x":0.072,"y":0.635,"a":-40},{"x":0.072,"y":0.62,"a":-40},{"x":0.072,"y":0.606,"a":-40},{"x":0.072,"y":0.591,"a":-40},{"x":0.072,"y":0.577,"a":-40},{"x":0.072,"y":0.562,"a":-40},{"x":0.072,"y":0.548,"a":-40},{"x":0.072,"y":0.534,"a":-40},{"x":0.072,"y":0.519,"a":-40},{"x":0.072,"y":0.505,"a":-40},{"x":0.072,"y":0.49,"a":-37},{"x":0.072,"y":0.476,"a":-37},{"x":0.072,"y":0.461,"a":-37},{"x":0.072,"y":0.447,"a":-37},{"x":0.072,"y":0.432,"a":-37},{"x":0.072,"y":0.418,"a":-36},{"x":0.072,"y":0.404,"a":-36},{"x":0.072,"y":0.389,"a":-36},{"x":0.072,"y":0.375,"a":-36},{"x":0.072,"y":0.36,"a":-36},{"x":0.072,"y":0.346,"a":-36},{"x":0.072,"y":0.331,"a":-36},
{"x":0.0577,"y":0.765,"a":-50},{"x":0.0577,"y":0.75,"a":-50},{"x":0.0577,"y":0.736,"a":-50},{"x":0.0577,"y":0.721,"a":-50},{"x":0.0577,"y":0.707,"a":-50},{"x":0.0577,"y":0.693,"a":-50},{"x":0.0577,"y":0.678,"a":-50},{"x":0.0577,"y":0.664,"a":-50},{"x":0.0577,"y":0.649,"a":-50},{"x":0.0577,"y":0.635,"a":-50},{"x":0.0577,"y":0.62,"a":-50},{"x":0.0577,"y":0.606,"a":-50},{"x":0.0577,"y":0.591,"a":-50},{"x":0.0577,"y":0.577,"a":-48},{"x":0.0577,"y":0.562,"a":-48},{"x":0.0577,"y":0.548,"a":-48},{"x":0.0577,"y":0.534,"a":-48},{"x":0.0577,"y":0.519,"a":-47},{"x":0.0577,"y":0.505,"a":-47},{"x":0.0577,"y":0.49,"a":-47},{"x":0.0577,"y":0.476,"a":-46},{"x":0.0577,"y":0.461,"a":-46},{"x":0.0577,"y":0.447,"a":-45},{"x":0.0577,"y":0.432,"a":-45},{"x":0.0577,"y":0.418,"a":-44},
{"x":0.0433,"y":0.664,"a":-62},{"x":0.0433,"y":0.649,"a":-62},{"x":0.0433,"y":0.635,"a":-62},{"x":0.0433,"y":0.62,"a":-62},{"x":0.0433,"y":0.606,"a":-62},{"x":0.0433,"y":0.591,"a":-62},{"x":0.0433,"y":0.577,"a":-62},{"x":0.0433,"y":0.562,"a":-62},{"x":0.0433,"y":0.548,"a":-62},{"x":0.0433,"y":0.534,"a":-62},{"x":0.0433,"y":0.519,"a":-62},
{"x":-0.0144,"y":0.62,"a":79},{"x":-0.0144,"y":0.606,"a":79},{"x":-0.0144,"y":0.591,"a":79},{"x":-0.0144,"y":0.577,"a":79},{"x":-0.0144,"y":0.562,"a":79},{"x":-0.0144,"y":0.548,"a":79},{"x":-0.0144,"y":0.534,"a":79},{"x":-0.0144,"y":0.519,"a":79},
{"x":-0.0289,"y":0.649,"a":66},{"x":-0.0289,"y":0.635,"a":66},{"x":-0.0289,"y":0.62,"a":66},{"x":-0.0289,"y":0.606,"a":66},{"x":-0.0289,"y":0.591,"a":66},{"x":-0.0289,"y":0.577,"a":66},{"x":-0.0289,"y":0.562,"a":66},{"x":-0.0289,"y":0.548,"a":66},{"x":-0.0289,"y":0.534,"a":66},{"x":-0.0289,"y":0.519,"a":66},{"x":-0.0289,"y":0.505,"a":66},{"x":-0.0289,"y":0.49,"a":66},
{"x":-0.0432,"y":0.707,"a":54},{"x":-0.0432,"y":0.693,"a":54},{"x":-0.0432,"y":0.678,"a":54},{"x":-0.0432,"y":0.664,"a":54},{"x":-0.0432,"y":0.649,"a":54},{"x":-0.0432,"y":0.635,"a":54},{"x":-0.0432,"y":0.62,"a":54},{"x":-0.0432,"y":0.606,"a":54},{"x":-0.0432,"y":0.591,"a":54},{"x":-0.0432,"y":0.577,"a":54},{"x":-0.0432,"y":0.562,"a":53},{"x":-0.0432,"y":0.548,"a":53},{"x":-0.0432,"y":0.534,"a":52},{"x":-0.0432,"y":0.519,"a":52},{"x":-0.0432,"y":0.505,"a":51},{"x":-0.0432,"y":0.49,"a":51},{"x":-0.0432,"y":0.476,"a":50},{"x":-0.0432,"y":0.461,"a":50},{"x":-0.0432,"y":0.447,"a":50},{"x":-0.0432,"y":0.432,"a":50},
{"x":-0.0577,"y":0.765,"a":43},{"x":-0.0577,"y":0.75,"a":43},{"x":-0.0577,"y":0.736,"a":43},{"x":-0.0577,"y":0.721,"a":43},{"x":-0.0577,"y":0.707,"a":43},{"x":-0.0577,"y":0.693,"a":43},{"x":-0.0577,"y":0.678,"a":43},{"x":-0.0577,"y":0.664,"a":43},{"x":-0.0577,"y":0.649,"a":43},{"x":-0.0577,"y":0.635,"a":43},{"x":-0.0577,"y":0.62,"a":42},{"x":-0.0577,"y":0.606,"a":42},{"x":-0.0577,"y":0.591,"a":42},{"x":-0.0577,"y":0.577,"a":42},{"x":-0.0577,"y":0.562,"a":42},{"x":-0.0577,"y":0.548,"a":42},{"x":-0.0577,"y":0.534,"a":42},{"x":-0.0577,"y":0.519,"a":42},{"x":-0.0577,"y":0.505,"a":41},{"x":-0.0577,"y":0.49,"a":41},{"x":-0.0577,"y":0.476,"a":40},{"x":-0.0577,"y":0.461,"a":40},{"x":-0.0577,"y":0.447,"a":39},{"x":-0.0577,"y":0.432,"a":39},{"x":-0.0577,"y":0.418,"a":38},{"x":-0.0577,"y":0.404,"a":38},{"x":-0.0577,"y":0.389,"a":37},{"x":-0.0577,"y":0.375,"a":37},{"x":-0.0577,"y":0.36,"a":36},{"x":-0.0577,"y":0.346,"a":36},{"x":-0.0577,"y":0.331,"a":36},
{"x":-0.0722,"y":0.823,"a":36},{"x":-0.0722,"y":0.808,"a":36},{"x":-0.0722,"y":0.794,"a":36},{"x":-0.0722,"y":0.779,"a":36},{"x":-0.0722,"y":0.765,"a":36},{"x":-0.0722,"y":0.75,"a":37},{"x":-0.0722,"y":0.736,"a":37},{"x":-0.0722,"y":0.721,"a":37},{"x":-0.0722,"y":0.707,"a":37},{"x":-0.0722,"y":0.693,"a":37},{"x":-0.0722,"y":0.678,"a":37},{"x":-0.0722,"y":0.664,"a":37},{"x":-0.0722,"y":0.649,"a":37},{"x":-0.0722,"y":0.635,"a":37},{"x":-0.0722,"y":0.62,"a":37},{"x":-0.0722,"y":0.606,"a":37},{"x":-0.0722,"y":0.591,"a":37},{"x":-0.0722,"y":0.577,"a":37},{"x":-0.0722,"y":0.562,"a":36},{"x":-0.0722,"y":0.548,"a":36},{"x":-0.0722,"y":0.534,"a":35},{"x":-0.0722,"y":0.519,"a":35},{"x":-0.0722,"y":0.505,"a":34},{"x":-0.0722,"y":0.49,"a":34},{"x":-0.0722,"y":0.476,"a":33},{"x":-0.0722,"y":0.461,"a":33},{"x":-0.0722,"y":0.447,"a":33},{"x":-0.0722,"y":0.432,"a":32},{"x":-0.0722,"y":0.418,"a":32},{"x":-0.0722,"y":0.404,"a":32},{"x":-0.0722,"y":0.389,"a":31},{"x":-0.0722,"y":0.375,"a":31},{"x":-0.0722,"y":0.36,"a":31},{"x":-0.0722,"y":0.346,"a":30},{"x":-0.0722,"y":0.331,"a":30},{"x":-0.0722,"y":0.317,"a":30},{"x":-0.0722,"y":0.303,"a":30},{"x":-0.0722,"y":0.288,"a":30},{"x":-0.0722,"y":0.274,"a":30},{"x":-0.0722,"y":0.259,"a":30},
{"x":-0.0865,"y":0.851,"a":29},{"x":-0.0865,"y":0.837,"a":29},{"x":-0.0865,"y":0.823,"a":29},{"x":-0.0865,"y":0.808,"a":29},{"x":-0.0865,"y":0.794,"a":29},{"x":-0.0865,"y":0.779,"a":29},{"x":-0.0865,"y":0.765,"a":29},{"x":-0.0865,"y":0.75,"a":29},{"x":-0.0865,"y":0.736,"a":29},{"x":-0.0865,"y":0.721,"a":29},{"x":-0.0865,"y":0.707,"a":29},{"x":-0.0865,"y":0.693,"a":29},{"x":-0.0865,"y":0.678,"a":29},{"x":-0.0865,"y":0.664,"a":29},{"x":-0.0865,"y":0.649,"a":29},{"x":-0.0865,"y":0.635,"a":29},{"x":-0.0865,"y":0.62,"a":29},{"x":-0.0865,"y":0.606,"a":29},{"x":-0.0865,"y":0.591,"a":29},{"x":-0.0865,"y":0.577,"a":29},{"x":-0.0865,"y":0.562,"a":29},{"x":-0.0865,"y":0.548,"a":29},{"x":-0.0865,"y":0.534,"a":28},{"x":-0.0865,"y":0.519,"a":28},{"x":-0.0865,"y":0.505,"a":28},{"x":-0.0865,"y":0.49,"a":28},{"x":-0.0865,"y":0.476,"a":28},{"x":-0.0865,"y":0.461,"a":28},{"x":-0.0865,"y":0.447,"a":28},{"x":-0.0865,"y":0.432,"a":28},{"x":-0.0865,"y":0.418,"a":27},{"x":-0.0865,"y":0.404,"a":27},{"x":-0.0865,"y":0.389,"a":27},{"x":-0.0865,"y":0.375,"a":27},{"x":-0.0865,"y":0.36,"a":27},{"x":-0.0865,"y":0.346,"a":27},{"x":-0.0865,"y":0.331,"a":27},{"x":-0.0865,"y":0.317,"a":27},{"x":-0.0865,"y":0.303,"a":27},{"x":-0.0865,"y":0.288,"a":27},{"x":-0.0865,"y":0.274,"a":27},
{"x":-0.1009,"y":0.823,"a":24},{"x":-0.1009,"y":0.808,"a":24},{"x":-0.1009,"y":0.794,"a":24},{"x":-0.1009,"y":0.779,"a":24},{"x":-0.1009,"y":0.765,"a":24},{"x":-0.1009,"y":0.75,"a":24},{"x":-0.1009,"y":0.736,"a":24},{"x":-0.1009,"y":0.721,"a":24},{"x":-0.1009,"y":0.707,"a":24},{"x":-0.1009,"y":0.693,"a":24},{"x":-0.1009,"y":0.678,"a":24},{"x":-0.1009,"y":0.664,"a":24},{"x":-0.1009,"y":0.649,"a":24},{"x":-0.1009,"y":0.635,"a":24},{"x":-0.1009,"y":0.62,"a":24},{"x":-0.1009,"y":0.606,"a":24},{"x":-0.1009,"y":0.591,"a":24},{"x":-0.1009,"y":0.577,"a":24},{"x":-0.1009,"y":0.562,"a":24},{"x":-0.1009,"y":0.548,"a":24},{"x":-0.1009,"y":0.534,"a":24},{"x":-0.1009,"y":0.519,"a":24},{"x":-0.1009,"y":0.505,"a":24},{"x":-0.1009,"y":0.49,"a":24},{"x":-0.1009,"y":0.476,"a":24},{"x":-0.1009,"y":0.461,"a":24},{"x":-0.1009,"y":0.447,"a":24},{"x":-0.1009,"y":0.432,"a":24},{"x":-0.1009,"y":0.418,"a":24},{"x":-0.1009,"y":0.404,"a":24},{"x":-0.1009,"y":0.389,"a":24},{"x":-0.1009,"y":0.375,"a":24},
{"x":-0.1154,"y":0.721,"a":18},{"x":-0.1154,"y":0.707,"a":18},{"x":-0.1154,"y":0.693,"a":18},{"x":-0.1154,"y":0.678,"a":18},{"x":-0.1154,"y":0.664,"a":18},{"x":-0.1154,"y":0.649,"a":18},{"x":-0.1154,"y":0.635,"a":18},{"x":-0.1154,"y":0.62,"a":18},{"x":-0.1154,"y":0.606,"a":18},{"x":-0.1154,"y":0.591,"a":18},{"x":-0.1154,"y":0.577,"a":18},{"x":-0.1154,"y":0.562,"a":18},{"x":-0.1154,"y":0.548,"a":18}
],
"levels":[
{"l":0,"h":0.055},{"l":0.05,"h":0.105},{"l":0.1,"h":0.155},{"l":0.15,"h":0.205},{"l":0.2,"h":0.255},{"l":0.25,"h":0.305},{"l":0.3,"h":0.355},{"l":0.35,"h":0.405},{"l":0.4,"h":0.455},{"l":0.45,"h":0.505},{"l":0.5,"h":0.555},{"l":0.55,"h":0.605},{"l":0.6,"h":0.655},{"l":0.65,"h":0.705},{"l":0.7,"h":0.755},{"l":0.75,"h":0.805},{"l":0.8,"h":0.855},{"l":0.85,"h":0.905},{"l":0.9,"h":0.955},{"l":0.95,"h":1.005},{"l":1,"h":1.055},{"l":1.05,"h":1.105},{"l":1.1,"h":1.155},{"l":1.15,"h":1.205},{"l":1.2,"h":1.255},{"l":1.25,"h":1.305},{"l":1.3,"h":1.355},{"l":1.35,"h":1.405},{"l":1.4,"h":1.455},{"l":1.45,"h":1.505},{"l":1.5,"h":1.555},{"l":1.55,"h":1.605},{"l":1.6,"h":1.655},{"l":1.65,"h":1.705},{"l":1.7,"h":1.755},{"l":1.75,"h":1.805},{"l":1.8,"h":1.855},{"l":1.85,"h":1.905},{"l":1.9,"h":1.955},{"l":1.95,"h":2.005},{"l":2,"h":2.055},{"l":2.05,"h":2.105},{"l":2.1,"h":2.155},{"l":2.15,"h":2.205},{"l":2.2,"h":2.255},{"l":2.25,"h":2.305},{"l":2.3,"h":2.355},{"l":2.35,"h":2.405},{"l":2.4,"h":2.455},{"l":2.45,"h":2.505},{"l":2.5,"h":2.555},{"l":2.55,"h":2.605},{"l":2.6,"h":2.655},{"l":2.65,"h":2.705},{"l":2.7,"h":2.755},{"l":2.75,"h":2.805},{"l":2.8,"h":2.855},{"l":2.85,"h":2.905},{"l":2.9,"h":2.955},{"l":2.95,"h":3.005},{"l":3,"h":3.055},{"l":3.05,"h":3.105},{"l":3.1,"h":3.155},{"l":3.15,"h":3.205},{"l":3.2,"h":3.255},{"l":3.25,"h":3.305},{"l":3.3,"h":3.355},{"l":3.35,"h":3.405},{"l":3.4,"h":3.455},{"l":3.45,"h":3.505},{"l":3.5,"h":3.555},{"l":3.55,"h":3.605},{"l":3.6,"h":3.655},{"l":3.65,"h":3.705},{"l":3.7,"h":3.755},{"l":3.75,"h":3.805},{"l":3.8,"h":3.855},{"l":3.85,"h":3.905},{"l":3.9,"h":3.955},{"l":3.95,"h":4.005},{"l":4,"h":4.055},{"l":4.05,"h":4.105},{"l":4.1,"h":4.155},{"l":4.15,"h":4.205},{"l":4.2,"h":4.255},{"l":4.25,"h":4.305},{"l":4.3,"h":4.355},{"l":4.35,"h":4.405},{"l":4.4,"h":4.455},{"l":4.45,"h":4.505},{"l":4.5,"h":4.555},{"l":4.55,"h":4.605},{"l":4.6,"h":4.655},{"l":4.65,"h":4.705},{"l":4.7,"h":4.755},{"l":4.75,"h":4.805},{"l":4.8,"h":4.855},{"l":4.85,"h":4.89}
]
},
"hconcat":[
{"width":1437,"height":1436,"resolve":{"axis":{"x":"independent","y":"independent"}},
"layer":[
{"data":{"name":"inner"},"mark":{"type":"rect","width":18.6,"height":72.6},
"encoding":{
"x":{"field":"x","type":"quantitative","scale":{"domain":[0.4,-0.4],"nice":false,"zero":false},"axis":{"orient":"bottom","values":[0.4,0.3,0.2,0.1,0,-0.1,-0.2,-0.3,-0.4],"labelExpr":"replace(format(datum.value,'.1f'),'-','−')","title":"RA offset [mas]","titlePadding":21,"labelPadding":26,"tickSize":-15}},
"y":{"field":"y","type":"quantitative","scale":{"domain":[0.2,1],"nice":false,"zero":false},"axis":{"orient":"left","values":[0.2,0.3,0.4,0.5,0.6,0.7,0.8,0.9,1],"format":".1f","title":"DEC offset [mas]","titlePadding":18,"labelPadding":36,"labelOffset":-2,"tickSize":-15}},
"color":{"field":"v","type":"quantitative","legend":null,"scale":{"domain":[0,0.538,0.611,1.663,1.834,3.13,3.227,4.352,4.45,4.89],"range":["#000080","#0000ff","#0000ff","#00dcfe","#14ffe2","#eeff00","#ffec00","#ff1400","#e80000","#800000"],"clamp":true,"interpolate":"rgb"}}}},
{"data":{"name":"outer"},"mark":{"type":"rect","strokeWidth":1.5},
"encoding":{
"x":{"field":"x","type":"quantitative","scale":{"domain":[0.4,-0.4],"nice":false,"zero":false},"axis":null},"x2":{"field":"u"},
"y":{"field":"y","type":"quantitative","scale":{"domain":[0.2,1],"nice":false,"zero":false},"axis":null},"y2":{"field":"t"},
"color":{"field":"v","type":"quantitative","legend":null,"scale":{"domain":[0,0.538,0.611,1.663,1.834,3.13,3.227,4.352,4.45,4.89],"range":["#000080","#0000ff","#0000ff","#00dcfe","#14ffe2","#eeff00","#ffec00","#ff1400","#e80000","#800000"],"clamp":true,"interpolate":"rgb"}},
"stroke":{"field":"v","type":"quantitative","legend":null,"scale":{"domain":[0,0.538,0.611,1.663,1.834,3.13,3.227,4.352,4.45,4.89],"range":["#000080","#0000ff","#0000ff","#00dcfe","#14ffe2","#eeff00","#ffec00","#ff1400","#e80000","#800000"],"clamp":true,"interpolate":"rgb"}}}},
{"data":{"values":[{"x":0.3003,"y":0.35,"label":"beam"}]},"mark":{"type":"point","shape":"M0,-1A0.317,1,0,1,1,0,1A0.317,1,0,1,1,0,-1Z","size":131044,"angle":9.7,"filled":true,"fill":"white","opacity":1},
"encoding":{
"x":{"field":"x","type":"quantitative","scale":{"domain":[0.4,-0.4],"nice":false,"zero":false},"axis":null},
"y":{"field":"y","type":"quantitative","scale":{"domain":[0.2,1],"nice":false,"zero":false},"axis":null}}},
{"data":{"name":"evpa"},"mark":{"type":"point","shape":"M-1,-0.31H1V0.31H-1Z","size":400,"filled":true,"fill":"white","stroke":"black","strokeWidth":2.8,"opacity":1},
"encoding":{
"x":{"field":"x","type":"quantitative","scale":{"domain":[0.4,-0.4],"nice":false,"zero":false},"axis":{"orient":"top","values":[0.4,0.3,0.2,0.1,0,-0.1,-0.2,-0.3,-0.4],"labels":false,"title":null,"tickSize":-15}},
"y":{"field":"y","type":"quantitative","scale":{"domain":[0.2,1],"nice":false,"zero":false},"axis":{"orient":"right","values":[0.2,0.3,0.4,0.5,0.6,0.7,0.8,0.9,1],"labels":false,"title":null,"tickSize":-15}},
"angle":{"field":"a","type":"quantitative","scale":null}}},
{"data":{"values":[{"x":0.3276,"u":0.1973,"y":0.9231}]},"mark":{"type":"rule","color":"white","strokeWidth":3},
"encoding":{
"x":{"field":"x","type":"quantitative","scale":{"domain":[0.4,-0.4],"nice":false,"zero":false},"axis":null},"x2":{"field":"u"},
"y":{"field":"y","type":"quantitative","scale":{"domain":[0.2,1],"nice":false,"zero":false},"axis":null}}},
{"data":{"values":[{"x":0.3621,"y":0.9348,"s":"Linearly Polarized Intensity"}]},"mark":{"type":"text","align":"left","baseline":"alphabetic","color":"white","font":"Lato","fontWeight":300,"fontSize":72,"stroke":"white","strokeWidth":0.6},
"encoding":{
"x":{"field":"x","type":"quantitative","scale":{"domain":[0.4,-0.4],"nice":false,"zero":false},"axis":null},
"y":{"field":"y","type":"quantitative","scale":{"domain":[0.2,1],"nice":false,"zero":false},"axis":null},
"text":{"field":"s"}}},
{"data":{"values":[{"x":-0.2153,"y":0.3198,"s":"GMVA"}]},"mark":{"type":"text","align":"left","baseline":"alphabetic","color":"white","font":"Lato","fontWeight":300,"fontSize":63,"stroke":"white","strokeWidth":0.6},
"encoding":{
"x":{"field":"x","type":"quantitative","scale":{"domain":[0.4,-0.4],"nice":false,"zero":false},"axis":null},
"y":{"field":"y","type":"quantitative","scale":{"domain":[0.2,1],"nice":false,"zero":false},"axis":null},
"text":{"field":"s"}}},
{"data":{"values":[{"x":0.3254,"y":0.8875,"s":"Q² + U²"}]},"mark":{"type":"text","align":"left","baseline":"alphabetic","color":"white","font":"Liberation Serif","fontStyle":"italic","fontSize":72},
"encoding":{
"x":{"field":"x","type":"quantitative","scale":{"domain":[0.4,-0.4],"nice":false,"zero":false},"axis":null},
"y":{"field":"y","type":"quantitative","scale":{"domain":[0.2,1],"nice":false,"zero":false},"axis":null},
"text":{"field":"s"}}},
{"data":{"values":[{"x":0.3594,"y":0.88,"s":"√"}]},"mark":{"type":"text","align":"left","baseline":"alphabetic","color":"white","font":"Liberation Serif","fontSize":100},
"encoding":{
"x":{"field":"x","type":"quantitative","scale":{"domain":[0.4,-0.4],"nice":false,"zero":false},"axis":null},
"y":{"field":"y","type":"quantitative","scale":{"domain":[0.2,1],"nice":false,"zero":false},"axis":null},
"text":{"field":"s"}}}
]},
{"width":72,"height":1436,"resolve":{"axis":{"x":"independent","y":"independent"}},
"layer":[
{"data":{"name":"levels"},"mark":{"type":"rect"},
"encoding":{
"x":{"datum":0,"type":"quantitative","scale":{"domain":[0,1],"nice":false,"zero":false},"axis":null},"x2":{"datum":1},
"y":{"field":"l","type":"quantitative","scale":{"domain":[0,4.89],"nice":false,"zero":false},"axis":{"orient":"right","values":[0,0.5,1,1.5,2,2.5,3,3.5,4,4.5],"format":".1f","title":"Linearly Polarized Intensity [Jy/beam]","titleFontSize":70,"titleAngle":270,"titlePadding":90,"labelPadding":29,"tickSize":-15}},"y2":{"field":"h"},
"color":{"field":"l","type":"quantitative","legend":null,"scale":{"domain":[0,0.538,0.611,1.663,1.834,3.13,3.227,4.352,4.45,4.89],"range":["#000080","#0000ff","#0000ff","#00dcfe","#14ffe2","#eeff00","#ffec00","#ff1400","#e80000","#800000"],"clamp":true,"interpolate":"rgb"}}}},
{"data":{"values":[{"a":0,"b":1,"c":0,"d":4.89}]},"mark":{"type":"rect","fill":null,"stroke":"black","strokeWidth":4},
"encoding":{
"x":{"field":"a","type":"quantitative","scale":{"domain":[0,1],"nice":false,"zero":false},"axis":null},"x2":{"field":"b"},
"y":{"field":"c","type":"quantitative","scale":{"domain":[0,4.89],"nice":false,"zero":false},"axis":null},"y2":{"field":"d"}}},
{"data":{"values":[{"a":0.28,"c":4.917,"s":"×10"}]},"mark":{"type":"text","align":"right","baseline":"alphabetic","font":"Liberation Serif","fontSize":52,"color":"black"},
"encoding":{
"x":{"field":"a","type":"quantitative","scale":{"domain":[0,1],"nice":false,"zero":false},"axis":null},
"y":{"field":"c","type":"quantitative","scale":{"domain":[0,4.89],"nice":false,"zero":false},"axis":null},
"text":{"field":"s"}}},
{"data":{"values":[{"a":0.32,"c":4.983,"s":"−5"}]},"mark":{"type":"text","align":"left","baseline":"alphabetic","font":"Liberation Serif","fontSize":36,"color":"black"},
"encoding":{
"x":{"field":"a","type":"quantitative","scale":{"domain":[0,1],"nice":false,"zero":false},"axis":null},
"y":{"field":"c","type":"quantitative","scale":{"domain":[0,4.89],"nice":false,"zero":false},"axis":null},
"text":{"field":"s"}}}
]}
],
"config":{"view":{"stroke":null},"font":"Liberation Serif","axis":{"grid":false,"zindex":1,"domainColor":"black","domainWidth":4,"tickColor":"black","tickWidth":2,"labelFont":"Liberation Serif","labelFontSize":66,"labelColor":"black","labelOverlap":false,"labelFlush":false,"labelBound":false,"titleFont":"Liberation Serif","titleFontSize":66,"titleFontWeight":"normal","titleColor":"black"}}}
